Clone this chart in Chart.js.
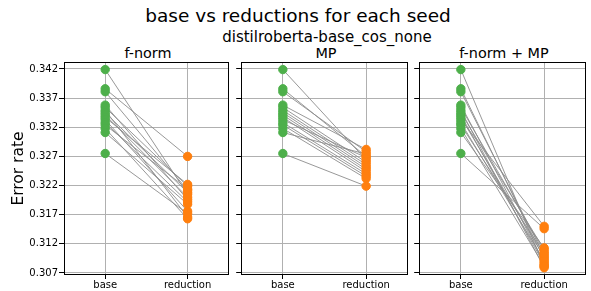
<!DOCTYPE html>
<html>
<head>
<meta charset="utf-8">
<script src="https://cdn.jsdelivr.net/npm/chart.js@4/dist/chart.umd.min.js"></script>
<style>
  body { margin: 0; background: #fff; font-family: "DejaVu Sans", sans-serif; }
  #wrap { position: relative; width: 591px; height: 291px; overflow: hidden; }
  .txt { position: absolute; color: #000; white-space: nowrap; transform: translate(-50%, -50%); }
  .panel { position: absolute; top: 55px; height: 236px; }
</style>
</head>
<body>
<div id="wrap">
  <div class="txt" style="left:298px; top:15px; font-size:18.5px;">base vs reductions for each seed</div>
  <div class="txt" style="left:327px; top:37px; font-size:15px;">distilroberta-base_cos_none</div>
  <div class="txt" style="left:148px; top:53px; font-size:14.4px;">f-norm</div>
  <div class="txt" style="left:326px; top:53px; font-size:14.4px;">MP</div>
  <div class="txt" style="left:504px; top:53px; font-size:14.4px;">f-norm + MP</div>
  <div class="panel" style="left:0px; width:234px;"><canvas id="c1"></canvas></div>
  <div class="panel" style="left:236px; width:177px;"><canvas id="c2"></canvas></div>
  <div class="panel" style="left:414px; width:177px;"><canvas id="c3"></canvas></div>
</div>
<script>
const categories = ["base", "reduction"];
const panelTitles = ["f-norm", "MP", "f-norm + MP"];
const yTicks = [0.307, 0.312, 0.317, 0.322, 0.327, 0.332, 0.337, 0.342];

// error rate per seed
const base  = [0.3419, 0.3386, 0.3381, 0.3358, 0.3354, 0.3349, 0.3345, 0.3341, 0.3337, 0.3333, 0.3328, 0.3324, 0.3318, 0.3311, 0.3275];
const fnorm = [0.3205, 0.3270, 0.3212, 0.3196, 0.3219, 0.3166, 0.3208, 0.3200, 0.3222, 0.3176, 0.3192, 0.3214, 0.3163, 0.3188, 0.3172];
const mp    = [0.3264, 0.3270, 0.3278, 0.3282, 0.3260, 0.3256, 0.3252, 0.3248, 0.3244, 0.3268, 0.3240, 0.3236, 0.3232, 0.3274, 0.3219];
const both  = [0.3082, 0.3094, 0.3100, 0.3088, 0.3106, 0.3079, 0.3110, 0.3085, 0.3097, 0.3150, 0.3091, 0.3103, 0.3082, 0.3113, 0.3146];

const GREEN = "#4daf4a", ORANGE = "#ff7f0e", LINE = "#8c8c8c", GRID = "#b0b0b0";

const frame = {
  id: "frame",
  afterDraw(chart) {
    const a = chart.chartArea, ctx = chart.ctx;
    ctx.save();
    ctx.strokeStyle = "#000";
    ctx.lineWidth = 1;
    ctx.strokeRect(Math.round(a.left) + 0.5, Math.round(a.top) + 0.5,
                   Math.round(a.right - a.left) - 1, Math.round(a.bottom - a.top) - 1);
    ctx.restore();
  }
};

function makePanel(id, red, first) {
  const datasets = [];
  for (let i = 0; i < base.length; i++) {
    datasets.push({
      type: "line",
      data: [{x: 0, y: base[i]}, {x: 1, y: red[i]}],
      borderColor: LINE,
      borderWidth: 0.9,
      pointRadius: 0,
      order: 2
    });
  }
  datasets.push({
    type: "scatter",
    data: base.map(v => ({x: 0, y: v})),
    backgroundColor: GREEN, borderColor: GREEN, pointRadius: 4.2, order: 1
  });
  datasets.push({
    type: "scatter",
    data: red.map(v => ({x: 1, y: v})),
    backgroundColor: ORANGE, borderColor: ORANGE, pointRadius: 4.2, order: 1
  });

  new Chart(document.getElementById(id), {
    type: "line",
    data: { datasets },
    plugins: [frame],
    options: {
      responsive: true,
      maintainAspectRatio: false,
      animation: false,
      layout: { padding: { top: 7, right: 1, left: 0, bottom: 0 } },
      plugins: { legend: { display: false }, tooltip: { enabled: false } },
      scales: {
        x: {
          type: "linear",
          min: -0.5, max: 1.5,
          afterBuildTicks: s => { s.ticks = [{value: 0}, {value: 1}]; },
          afterFit: s => { s.height = 16; },
          ticks: {
            callback: v => categories[v],
            font: { family: "DejaVu Sans", size: 10 },
            color: "#000", padding: 0, maxRotation: 0
          },
          grid: { color: GRID, lineWidth: 1, tickLength: 4, tickColor: "#000" },
          border: { display: false }
        },
        y: {
          min: 0.30665, max: 0.3432,
          afterBuildTicks: s => { s.ticks = yTicks.map(v => ({value: v})); },
          afterFit: s => { s.width = first ? 64 : 5; },
          ticks: {
            display: first,
            callback: v => v.toFixed(3),
            font: { family: "DejaVu Sans", size: 10 },
            color: "#000", padding: 1
          },
          title: {
            display: first,
            text: "Error rate",
            font: { family: "DejaVu Sans", size: 15.5 },
            color: "#000",
            padding: { top: 10, bottom: 0 }
          },
          grid: { color: GRID, lineWidth: 1, tickLength: 5, tickColor: "#000" },
          border: { display: false }
        }
      }
    }
  });
}

makePanel("c1", fnorm, true);
makePanel("c2", mp, false);
makePanel("c3", both, false);
</script>
</body>
</html>
